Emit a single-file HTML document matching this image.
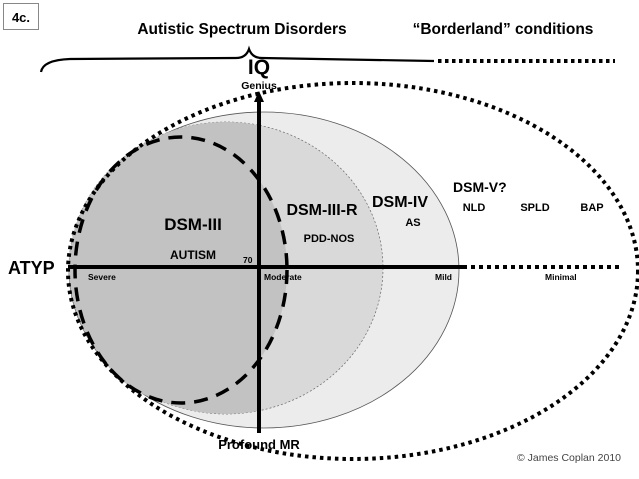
<!DOCTYPE html>
<html><head><meta charset="utf-8"><style>
html,body{margin:0;padding:0;background:#fff;}
svg{display:block;}
text{font-family:"Liberation Sans",Arial,sans-serif;font-weight:bold;fill:#000;}
</style></head><body>
<svg width="639" height="479" viewBox="0 0 639 479" xmlns="http://www.w3.org/2000/svg">
<defs>
<clipPath id="leftHalf"><rect x="0" y="0" width="259" height="479"/></clipPath>
</defs>
<rect x="3.5" y="3.5" width="35" height="26" fill="#fff" stroke="#888" stroke-width="1"/>
<text x="21" y="22" font-size="13" text-anchor="middle">4c.</text>
<text x="242" y="34" font-size="15.5" text-anchor="middle">Autistic Spectrum Disorders</text>
<text x="503" y="34" font-size="15.5" text-anchor="middle">“Borderland” conditions</text>
<path d="M41,72 Q43,60 70,59 L236,58 Q246,58 249,49 Q252,58 262,58 L434,61" fill="none" stroke="#000" stroke-width="2.2"/>
<line x1="438" y1="61" x2="615" y2="61" stroke="#000" stroke-width="4" stroke-dasharray="3.5,3.5"/>
<ellipse cx="264" cy="270" rx="195" ry="158" fill="#ececec" stroke="#555" stroke-width="0.8"/>
<ellipse cx="226" cy="268" rx="157" ry="146" fill="#d9d9d9" stroke="#666" stroke-width="0.7" stroke-dasharray="2,2"/>
<ellipse cx="226" cy="268" rx="157" ry="146" fill="#c2c2c2" clip-path="url(#leftHalf)"/>
<ellipse cx="181" cy="270" rx="106" ry="133" fill="#c2c2c2"/>
<ellipse cx="181" cy="270" rx="106" ry="133" fill="none" stroke="#000" stroke-width="3.5" stroke-dasharray="14,9"/>
<ellipse cx="353" cy="271" rx="285" ry="188" fill="none" stroke="#000" stroke-width="4" stroke-dasharray="3.5,4"/>
<line x1="259" y1="100" x2="259" y2="433" stroke="#000" stroke-width="4"/>
<polygon points="254,102 264,102 259,91" fill="#000"/>
<line x1="68" y1="267" x2="467" y2="267" stroke="#000" stroke-width="4"/>
<line x1="471" y1="267" x2="623" y2="267" stroke="#000" stroke-width="4" stroke-dasharray="4,4"/>
<text x="259" y="74" font-size="21" text-anchor="middle">IQ</text>
<text x="259" y="89" font-size="10.5" text-anchor="middle">Genius</text>
<text x="8" y="274" font-size="18">ATYP</text>
<text x="193" y="230" font-size="17" text-anchor="middle">DSM-III</text>
<text x="193" y="259" font-size="12" text-anchor="middle">AUTISM</text>
<text x="243" y="263" font-size="8.5">70</text>
<text x="88" y="280" font-size="8.5">Severe</text>
<text x="264" y="280" font-size="8.5">Moderate</text>
<text x="435" y="280" font-size="8.5">Mild</text>
<text x="545" y="280" font-size="8.5">Minimal</text>
<text x="322" y="215" font-size="16" text-anchor="middle">DSM-III-R</text>
<text x="329" y="242" font-size="11" text-anchor="middle">PDD-NOS</text>
<text x="400" y="207" font-size="16" text-anchor="middle">DSM-IV</text>
<text x="413" y="226" font-size="11" text-anchor="middle">AS</text>
<text x="453" y="192" font-size="14">DSM-V?</text>
<text x="474" y="211" font-size="11" text-anchor="middle">NLD</text>
<text x="535" y="211" font-size="11" text-anchor="middle">SPLD</text>
<text x="592" y="211" font-size="11" text-anchor="middle">BAP</text>
<text x="259" y="449" font-size="13" text-anchor="middle">Profound MR</text>
<text x="621" y="461" font-size="10.5" text-anchor="end" style="font-weight:normal;fill:#444">© James Coplan 2010</text>
</svg>
</body></html>
